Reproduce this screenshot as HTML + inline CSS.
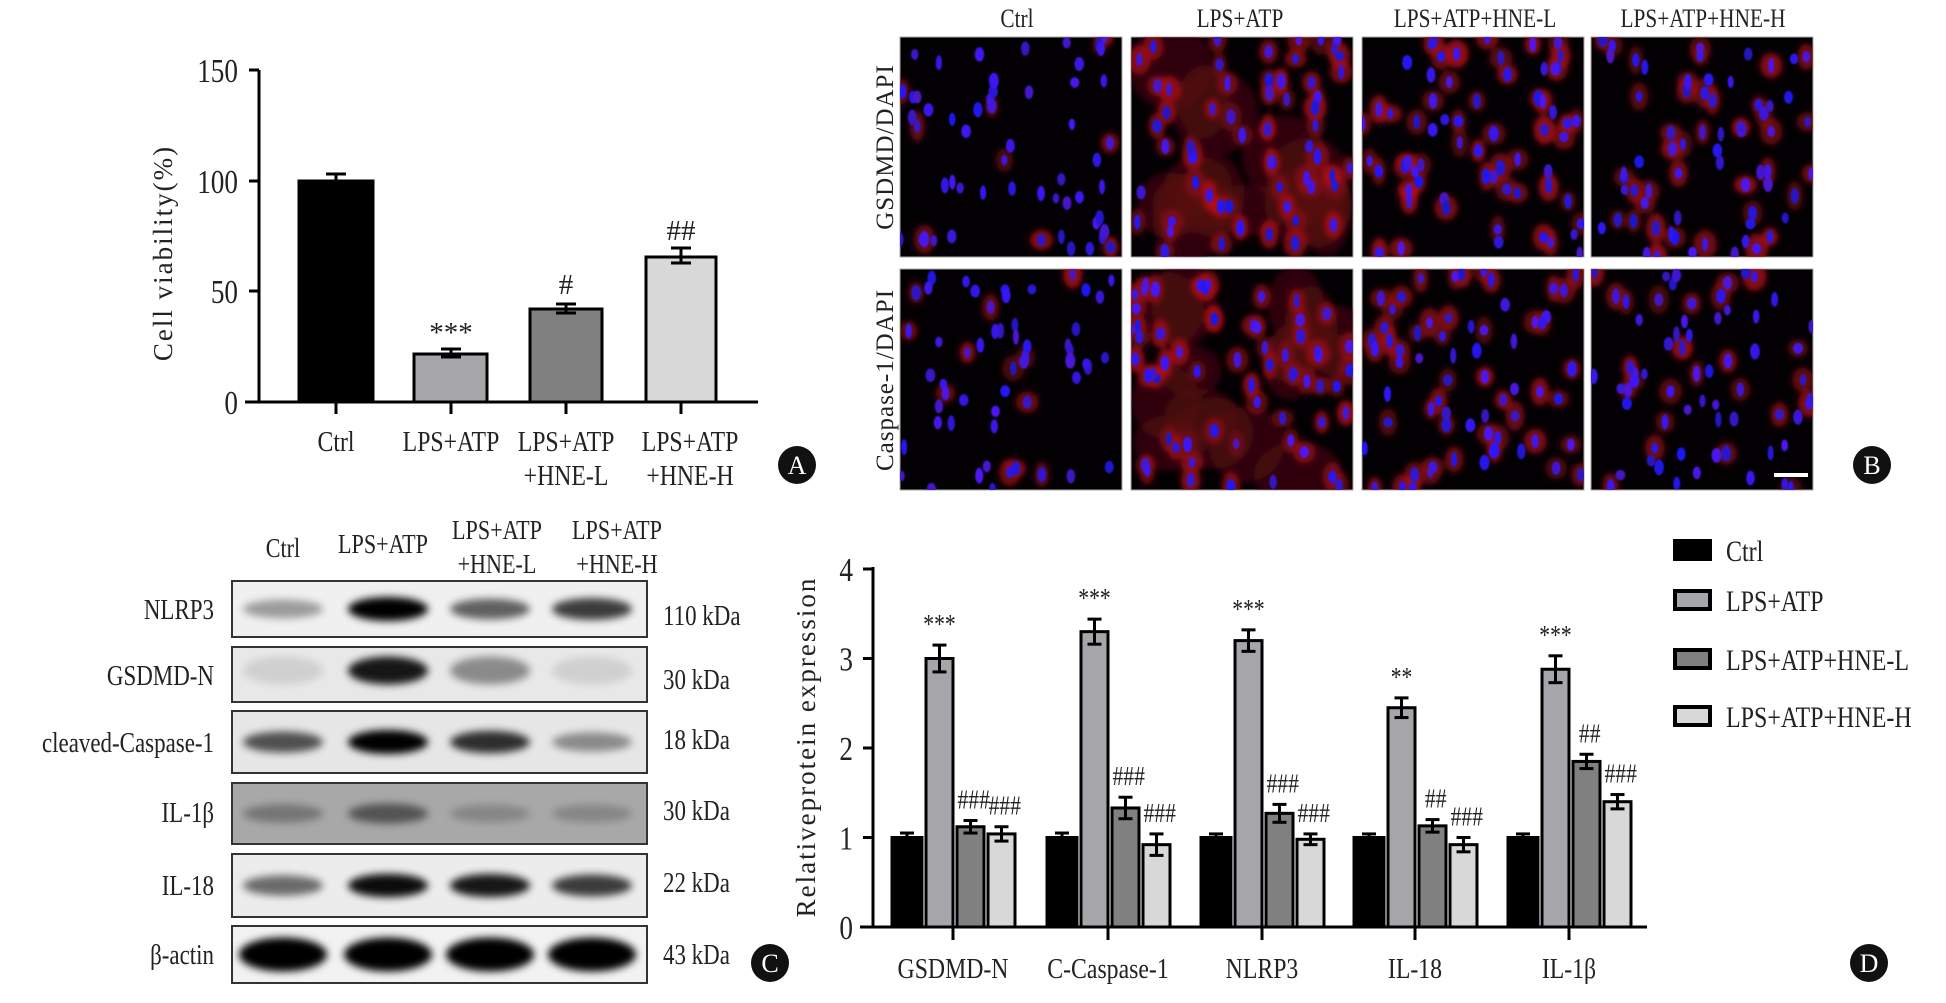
<!DOCTYPE html>
<html><head><meta charset="utf-8"><style>
html,body{margin:0;padding:0;background:#fff;}
svg{display:block;}
text{font-family:"Liberation Serif",serif;fill:#222;}
</style></head><body>
<svg id="s" width="1946" height="1003" viewBox="0 0 1946 1003" xmlns="http://www.w3.org/2000/svg">
<defs>
<filter id="bl" x="-50%" y="-50%" width="200%" height="200%"><feGaussianBlur stdDeviation="4"/></filter>
<filter id="bl2" x="-50%" y="-50%" width="200%" height="200%"><feGaussianBlur stdDeviation="0.8"/></filter>
<filter id="bl3" x="-50%" y="-50%" width="200%" height="200%"><feGaussianBlur stdDeviation="3"/></filter>
</defs>
<!-- Panel A -->
<g id="A">
<line x1="259" y1="70" x2="259" y2="403" stroke="#000" stroke-width="3"/>
<line x1="245" y1="402" x2="758" y2="402" stroke="#000" stroke-width="3"/>
<g stroke="#000" stroke-width="3">
<line x1="249" y1="70" x2="259" y2="70"/><line x1="249" y1="181" x2="259" y2="181"/><line x1="249" y1="291" x2="259" y2="291"/>
<line x1="336" y1="402" x2="336" y2="414"/><line x1="451" y1="402" x2="451" y2="414"/><line x1="566" y1="402" x2="566" y2="414"/><line x1="681" y1="402" x2="681" y2="414"/>
</g>
<g font-size="34" text-anchor="end">
<text x="238" y="82" transform="translate(238 0) scale(0.8 1) translate(-238 0)">150</text>
<text x="238" y="193" transform="translate(238 0) scale(0.8 1) translate(-238 0)">100</text>
<text x="238" y="303" transform="translate(238 0) scale(0.8 1) translate(-238 0)">50</text>
<text x="238" y="414" transform="translate(238 0) scale(0.8 1) translate(-238 0)">0</text>
</g>
<text font-size="27" text-anchor="middle" transform="translate(172 253) rotate(-90)" letter-spacing="2">Cell viability(%)</text>
<g stroke="#000" stroke-width="3">
<rect x="299" y="181" width="74" height="221" fill="#000"/>
<line x1="336" y1="174" x2="336" y2="181"/><line x1="326" y1="174" x2="346" y2="174"/>
<rect x="414" y="354" width="73" height="48" fill="#a6a6aa"/>
<line x1="451" y1="349" x2="451" y2="357"/><line x1="441" y1="349" x2="461" y2="349"/><line x1="441" y1="357" x2="461" y2="357"/>
<rect x="530" y="309" width="72" height="93" fill="#808080"/>
<line x1="566" y1="304" x2="566" y2="313"/><line x1="556" y1="304" x2="576" y2="304"/><line x1="556" y1="313" x2="576" y2="313"/>
<rect x="646" y="257" width="70" height="145" fill="#d8d8d8"/>
<line x1="681" y1="248" x2="681" y2="263"/><line x1="671" y1="248" x2="691" y2="248"/><line x1="671" y1="263" x2="691" y2="263"/>
</g>
<g font-size="29" text-anchor="middle">
<text x="451" y="342">***</text><text x="566" y="294">#</text><text x="681" y="240">##</text>
<text x="336" y="451" transform="translate(336 0) scale(0.82 1) translate(-336 0)">Ctrl</text>
<text x="451" y="451" transform="translate(451 0) scale(0.82 1) translate(-451 0)">LPS+ATP</text>
<text x="566" y="451" transform="translate(566 0) scale(0.82 1) translate(-566 0)">LPS+ATP</text>
<text x="566" y="485" transform="translate(566 0) scale(0.82 1) translate(-566 0)">+HNE-L</text>
<text x="690" y="451" transform="translate(690 0) scale(0.82 1) translate(-690 0)">LPS+ATP</text>
<text x="690" y="485" transform="translate(690 0) scale(0.82 1) translate(-690 0)">+HNE-H</text>
</g>
<circle cx="797" cy="465" r="19" fill="#111"/><text x="797" y="474" font-family="Liberation Sans" font-size="26" text-anchor="middle" style="fill:#fff">A</text>
</g>
<!-- Panel B -->
<g font-size="26" text-anchor="middle">
<text x="1017" y="27" transform="translate(1017 0) scale(0.82 1) translate(-1017 0)">Ctrl</text>
<text x="1240" y="27" transform="translate(1240 0) scale(0.82 1) translate(-1240 0)">LPS+ATP</text>
<text x="1475" y="27" transform="translate(1475 0) scale(0.82 1) translate(-1475 0)">LPS+ATP+HNE-L</text>
<text x="1703" y="27" transform="translate(1703 0) scale(0.82 1) translate(-1703 0)">LPS+ATP+HNE-H</text>
<text transform="translate(893 147) rotate(-90)" font-size="25" letter-spacing="1">GSDMD/DAPI</text>
<text transform="translate(893 380) rotate(-90)" font-size="25" letter-spacing="1">Caspase-1/DAPI</text>
</g>
<g id="cells"></g>
<rect x="1774" y="473" width="34" height="4" fill="#fff"/>
<circle cx="1872" cy="465" r="19" fill="#111"/><text x="1872" y="474" font-family="Liberation Sans" font-size="26" text-anchor="middle" style="fill:#fff">B</text>
<!-- Panel C -->
<g id="blots"></g>
<g font-size="27" text-anchor="middle">
<text x="283" y="557" transform="translate(283 0) scale(0.82 1) translate(-283 0)">Ctrl</text>
<text x="383" y="553" transform="translate(383 0) scale(0.82 1) translate(-383 0)">LPS+ATP</text>
<text x="497" y="539" transform="translate(497 0) scale(0.82 1) translate(-497 0)">LPS+ATP</text>
<text x="497" y="573" transform="translate(497 0) scale(0.82 1) translate(-497 0)">+HNE-L</text>
<text x="617" y="539" transform="translate(617 0) scale(0.82 1) translate(-617 0)">LPS+ATP</text>
<text x="617" y="573" transform="translate(617 0) scale(0.82 1) translate(-617 0)">+HNE-H</text>
</g>
<g font-size="28" text-anchor="end">
<text x="214" y="619" transform="translate(214 0) scale(0.82 1) translate(-214 0)">NLRP3</text>
<text x="214" y="685" transform="translate(214 0) scale(0.82 1) translate(-214 0)">GSDMD-N</text>
<text x="214" y="752" transform="translate(214 0) scale(0.82 1) translate(-214 0)">cleaved-Caspase-1</text>
<text x="214" y="822" transform="translate(214 0) scale(0.82 1) translate(-214 0)">IL-1β</text>
<text x="214" y="895" transform="translate(214 0) scale(0.82 1) translate(-214 0)">IL-18</text>
<text x="214" y="964" transform="translate(214 0) scale(0.82 1) translate(-214 0)">β-actin</text>
</g>
<g font-size="28">
<text x="663" y="625" transform="translate(663 0) scale(0.82 1) translate(-663 0)">110 kDa</text>
<text x="663" y="689" transform="translate(663 0) scale(0.82 1) translate(-663 0)">30 kDa</text>
<text x="663" y="749" transform="translate(663 0) scale(0.82 1) translate(-663 0)">18 kDa</text>
<text x="663" y="820" transform="translate(663 0) scale(0.82 1) translate(-663 0)">30 kDa</text>
<text x="663" y="892" transform="translate(663 0) scale(0.82 1) translate(-663 0)">22 kDa</text>
<text x="663" y="964" transform="translate(663 0) scale(0.82 1) translate(-663 0)">43 kDa</text>
</g>
<circle cx="770" cy="963" r="19" fill="#111"/><text x="770" y="972" font-family="Liberation Sans" font-size="26" text-anchor="middle" style="fill:#fff">C</text>
<!-- Panel D -->
<g id="D"></g>
<circle cx="1869" cy="963" r="19" fill="#111"/><text x="1869" y="972" font-family="Liberation Sans" font-size="26" text-anchor="middle" style="fill:#fff">D</text>
</svg>
<script>
var NS="http://www.w3.org/2000/svg";
function el(p,t,a,txt){var e=document.createElementNS(NS,t);for(var k in a)e.setAttribute(k,a[k]);if(txt!=null)e.textContent=txt;p.appendChild(e);return e;}
var seed=7;function r(){seed=(seed*16807)%2147483647;return seed/2147483647;}
// Panel B
var cells=document.getElementById('cells');
var cols=[900,1131,1362,1591],rows=[[37,257],[269,490]];
var red=[[0.2,0.95,0.8,0.6],[0.15,0.95,0.75,0.5]];
for(var ri=0;ri<2;ri++)for(var ci=0;ci<4;ci++){
 var x0=cols[ci],y0=rows[ri][0],h=rows[ri][1]-y0,w=222;
 el(cells,'rect',{x:x0,y:y0,width:w,height:h,fill:'#030003',stroke:'#aaa','stroke-width':1});
 var cp=el(cells,'clipPath',{id:'c'+ri+ci});el(cp,'rect',{x:x0,y:y0,width:w,height:h});
 var g=el(cells,'g',{'clip-path':'url(#c'+ri+ci+')'});
 var gr=el(g,'g',{filter:'url(#bl3)'}),gb=el(g,'g',{});
 if(ci==1){for(var i=0;i<14;i++)el(gr,'ellipse',{cx:x0+30+r()*(w-40),cy:y0+30+r()*(h-40),rx:25+r()*20,ry:25+r()*20,fill:'#5a0a12',opacity:0.5});}
 var n=ci==0?55:(ci==1?60:65),rd=red[ri][ci];
 for(var i=0;i<n;i++){var cx=x0+r()*w,cy=y0+r()*h;
  if(r()<rd)el(gr,'ellipse',{cx:cx,cy:cy,rx:7+r()*5,ry:9+r()*6,fill:'rgb('+(130+r()*70|0)+',15,25)',opacity:0.5+r()*0.3});
  el(gb,'ellipse',{cx:cx,cy:cy,rx:3+r()*2,ry:5+r()*3,fill:'rgb('+(30+r()*50|0)+',25,'+(190+r()*60|0)+')',filter:'url(#bl2)'});}
}
// Panel C
var bl=document.getElementById('blots');
var brow=[[581,637,'#f0f0f0',[0.35,1,0.6,0.75]],[647,702,'#e8e8e8',[0.1,0.9,0.4,0.1]],[711,773,'#e6e6e6',[0.65,1,0.8,0.4]],[783,844,'#a8a8a8',[0.3,0.5,0.2,0.2]],[854,917,'#ececec',[0.55,0.95,0.9,0.75]],[926,983,'#f2f2f2',[1,1,1,1]]];
var lanes=[283,388,490,592];
brow.forEach(function(b,k){
 el(bl,'rect',{x:232,y:b[0],width:415,height:b[1]-b[0],fill:b[2],stroke:'#333','stroke-width':2});
 var cy=(b[0]+b[1])/2;
 b[3].forEach(function(v,j){ if(v<0.05)return;
  el(bl,'ellipse',{cx:lanes[j],cy:cy+(k==1?-4:0),rx:k==5?44:40,ry:k==5?17:(k==1?14:8+v*4),fill:'#000',opacity:v,filter:'url(#bl)'});});
});
// Panel D
var D=document.getElementById('D');
var y0=927,u=89.5,ax=873;
el(D,'line',{x1:ax,y1:567,x2:ax,y2:928,stroke:'#000','stroke-width':3});
el(D,'line',{x1:860,y1:927,x2:1647,y2:927,stroke:'#000','stroke-width':3});
for(var t=0;t<=4;t++){var yy=y0-t*u;el(D,'line',{x1:ax-10,y1:yy,x2:ax,y2:yy,stroke:'#000','stroke-width':3});
 el(D,'text',{x:853,y:yy+12,'font-size':34,'text-anchor':'end',transform:'translate(853 0) scale(0.8 1) translate(-853 0)'},String(t));}
el(D,'text',{transform:'translate(815 747) rotate(-90)','font-size':27,'text-anchor':'middle','letter-spacing':2},'Relativeprotein expression');
var cen=[953,1108,1262,1415,1569],names=['GSDMD-N','C-Caspase-1','NLRP3','IL-18','IL-1β'];
var vals=[[1,3.0,1.12,1.04],[1,3.3,1.33,0.92],[1,3.2,1.27,0.98],[1,2.45,1.13,0.92],[1,2.88,1.85,1.4]];
var errs=[[0.05,0.15,0.07,0.08],[0.05,0.14,0.12,0.12],[0.04,0.12,0.1,0.06],[0.04,0.11,0.07,0.08],[0.04,0.15,0.08,0.08]];
var star=['***','***','***','**','***'],hl=['###','###','###','##','##'],hh=['###','###','###','###','###'];
var fills=['#000','#a6a6aa','#808080','#d8d8d8'],offs=[-61,-27,4,35],wd=[30,27,27,27];
cen.forEach(function(c,g){
 el(D,'line',{x1:c,y1:927,x2:c,y2:940,stroke:'#000','stroke-width':3});
 el(D,'text',{x:c,y:978,'font-size':29,'text-anchor':'middle',transform:'translate('+c+' 0) scale(0.82 1) translate('+(-c)+' 0)'},names[g]);
 for(var j=0;j<4;j++){var v=vals[g][j],e=errs[g][j],x=c+offs[j],w=wd[j],top=y0-v*u,xc=x+w/2;
  el(D,'rect',{x:x,y:top,width:w,height:y0-top,fill:fills[j],stroke:'#000','stroke-width':3});
  var et=top-e*u,eb=top+e*u;
  el(D,'line',{x1:xc,y1:et,x2:xc,y2:eb,stroke:'#000','stroke-width':3});
  el(D,'line',{x1:xc-7,y1:et,x2:xc+7,y2:et,stroke:'#000','stroke-width':3});
  el(D,'line',{x1:xc-7,y1:eb,x2:xc+7,y2:eb,stroke:'#000','stroke-width':3});
  var lab=j==1?star[g]:(j==2?hl[g]:(j==3?hh[g]:null));
  if(lab)el(D,'text',{x:xc+(j>1?4:0),y:et-12,'font-size':27,'text-anchor':'middle',transform:'translate('+xc+' 0) scale(0.8 1) translate('+(-xc)+' 0)'},lab);
 }});
var lg=['Ctrl','LPS+ATP','LPS+ATP+HNE-L','LPS+ATP+HNE-H'],ly=[550,600,659,716];
lg.forEach(function(s,i){el(D,'rect',{x:1675,y:ly[i]-9,width:35,height:18,fill:fills[i],stroke:'#000','stroke-width':4});
 el(D,'text',{x:1726,y:ly[i]+11,'font-size':30,transform:'translate(1726 0) scale(0.8 1) translate(-1726 0)'},s);});
</script>
</body></html>
